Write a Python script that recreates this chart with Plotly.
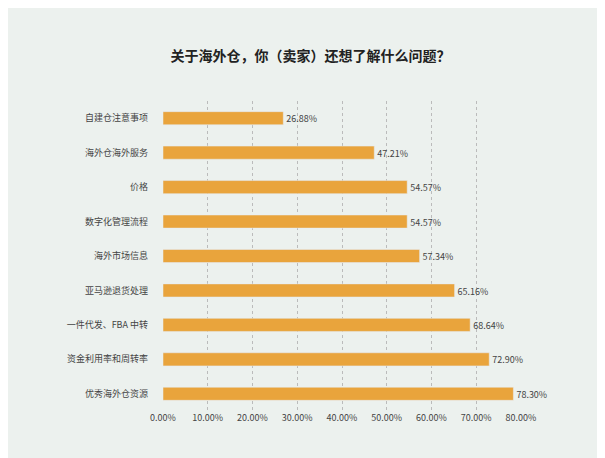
import plotly.graph_objects as go

categories = ["自建仓注意事项","海外仓海外服务","价格","数字化管理流程","海外市场信息","亚马逊退货处理","一件代发、FBA 中转","资金利用率和周转率","优秀海外仓资源"]
values = [26.88,47.21,54.57,54.57,57.34,65.16,68.64,72.90,78.30]
tick_vals = [0,10,20,30,40,50,60,70,80]
tick_text = [f"{v:.2f}%" for v in tick_vals]

fig = go.Figure(go.Bar(
    y=categories, x=values, orientation="h",
    marker=dict(color="#e9a43c"),
    text=[f"{v:.2f}%" for v in values], textposition="outside",
    textfont=dict(size=11, color="#444"), cliponaxis=False,
))
fig.update_layout(
    width=605, height=458,
    paper_bgcolor="#ecf1ee", plot_bgcolor="#ecf1ee",
    margin=dict(l=155, r=92, t=93, b=55),
    title=dict(text="<b>关于海外仓，你（卖家）还想了解什么问题？</b>", x=0.5, y=0.905, xanchor="center",
               font=dict(size=14, color="#222", family="Noto Sans CJK SC")),
    font=dict(family="Noto Sans CJK SC", size=9, color="#444"),
    bargap=0.62, showlegend=False,
)
fig.update_xaxes(range=[0,80], tickvals=tick_vals, ticktext=tick_text, showgrid=True,
                 gridcolor="#bbbbbb", griddash="dot", zeroline=False, tickfont=dict(size=9),
                 automargin=False)
fig.update_yaxes(autorange="reversed", ticklabelstandoff=14, tickfont=dict(size=9), automargin=False)
fig.write_html("out.html")
